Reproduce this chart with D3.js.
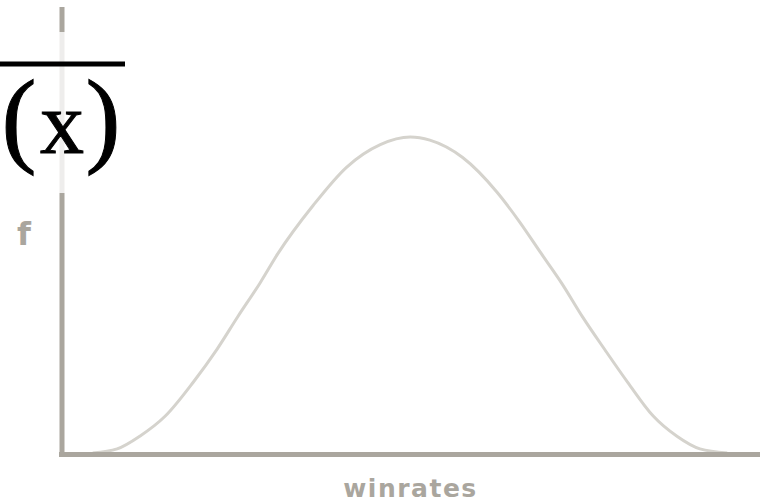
<!DOCTYPE html>
<html>
<head>
<meta charset="utf-8">
<script src="https://cdn.jsdelivr.net/npm/d3@7"></script>
<style>
  html, body { margin: 0; padding: 0; background: #ffffff; }
  svg { display: block; }
</style>
</head>
<body>
<svg id="chart" width="763" height="504"></svg>
<script>
// ---- data ----
const winrates = [0.044, 0.079, 0.112, 0.148, 0.188, 0.222, 0.252, 0.284, 0.309, 0.360, 0.408, 0.456, 0.499,
                  0.527, 0.574, 0.623, 0.656, 0.686, 0.716, 0.746, 0.778, 0.811, 0.847, 0.881, 0.914, 0.953];
const density  = [0.000, 0.013, 0.054, 0.117, 0.224, 0.328, 0.432, 0.539, 0.630, 0.784, 0.905, 0.976, 1.000,
                  0.990, 0.935, 0.826, 0.730, 0.633, 0.537, 0.430, 0.326, 0.222, 0.117, 0.053, 0.013, 0.000];
const xLabel = "winrates";
const yLabel = "f";
const overlayGlyphs = ["(", "x", ")"];

// ---- drawing ----
const svg = d3.select("#chart");
const axisColor = "#aaa69e";
const curveColor = "#d5d3cd";

const x = d3.scaleLinear().domain([0, 1]).range([62, 760]);
const y = d3.scaleLinear().domain([0, 1]).range([453, 137]);

const pts = winrates.map((w, i) => [w, density[i]]);

// curve
const line = d3.line().x(d => x(d[0])).y(d => y(d[1])).curve(d3.curveMonotoneX);
svg.append("path")
  .datum(pts)
  .attr("d", line)
  .attr("fill", "none")
  .attr("stroke", curveColor)
  .attr("stroke-width", 3);

// axes (plain lines, no ticks)
const xAxis = d3.axisBottom(x).tickValues([]).tickSizeOuter(0);
const gx = svg.append("g").attr("transform", "translate(0,454.5)").call(xAxis);
gx.select(".domain").attr("stroke", axisColor).attr("stroke-width", 5)
  .attr("d", `M${x(0) - 3},0H${x(1)}`);

const yAxis = d3.axisLeft(y).tickValues([]).tickSizeOuter(0);
const gy = svg.append("g").attr("transform", "translate(62,0)").call(yAxis);
gy.select(".domain").attr("stroke", axisColor).attr("stroke-width", 5)
  .attr("d", `M0,7V457`);

// axis labels
svg.append("text")
  .attr("x", 410.5).attr("y", 497)
  .attr("text-anchor", "middle")
  .attr("font-family", "DejaVu Sans, sans-serif")
  .attr("font-weight", "bold")
  .attr("font-size", 25)
  .attr("letter-spacing", 1.5)
  .attr("fill", axisColor)
  .text(xLabel);

svg.append("text")
  .attr("x", 24).attr("y", 245)
  .attr("text-anchor", "middle")
  .attr("font-family", "DejaVu Sans, sans-serif")
  .attr("font-weight", "bold")
  .attr("font-size", 32)
  .attr("fill", axisColor)
  .text(yLabel);

// overlay: semi-transparent white box with fraction bar and "(x)"
svg.append("rect")
  .attr("x", 0).attr("y", 32).attr("width", 130).attr("height", 161)
  .attr("fill", "#ffffff").attr("fill-opacity", 0.8);

svg.append("line")
  .attr("x1", 0).attr("x2", 125).attr("y1", 64).attr("y2", 64)
  .attr("stroke", "#000").attr("stroke-width", 5);

const glyphPos = [19, 62, 103];
const glyphSize = [105, 88, 105];
overlayGlyphs.forEach((g, i) => {
  svg.append("text")
    .attr("x", glyphPos[i]).attr("y", 153)
    .attr("text-anchor", "middle")
    .attr("font-family", "Liberation Serif, Times New Roman, serif")
    .attr("font-size", glyphSize[i])
    .attr("fill", "#000")
    .attr("stroke", "#000")
    .attr("stroke-width", 1)
    .text(g);
});
</script>
</body>
</html>
